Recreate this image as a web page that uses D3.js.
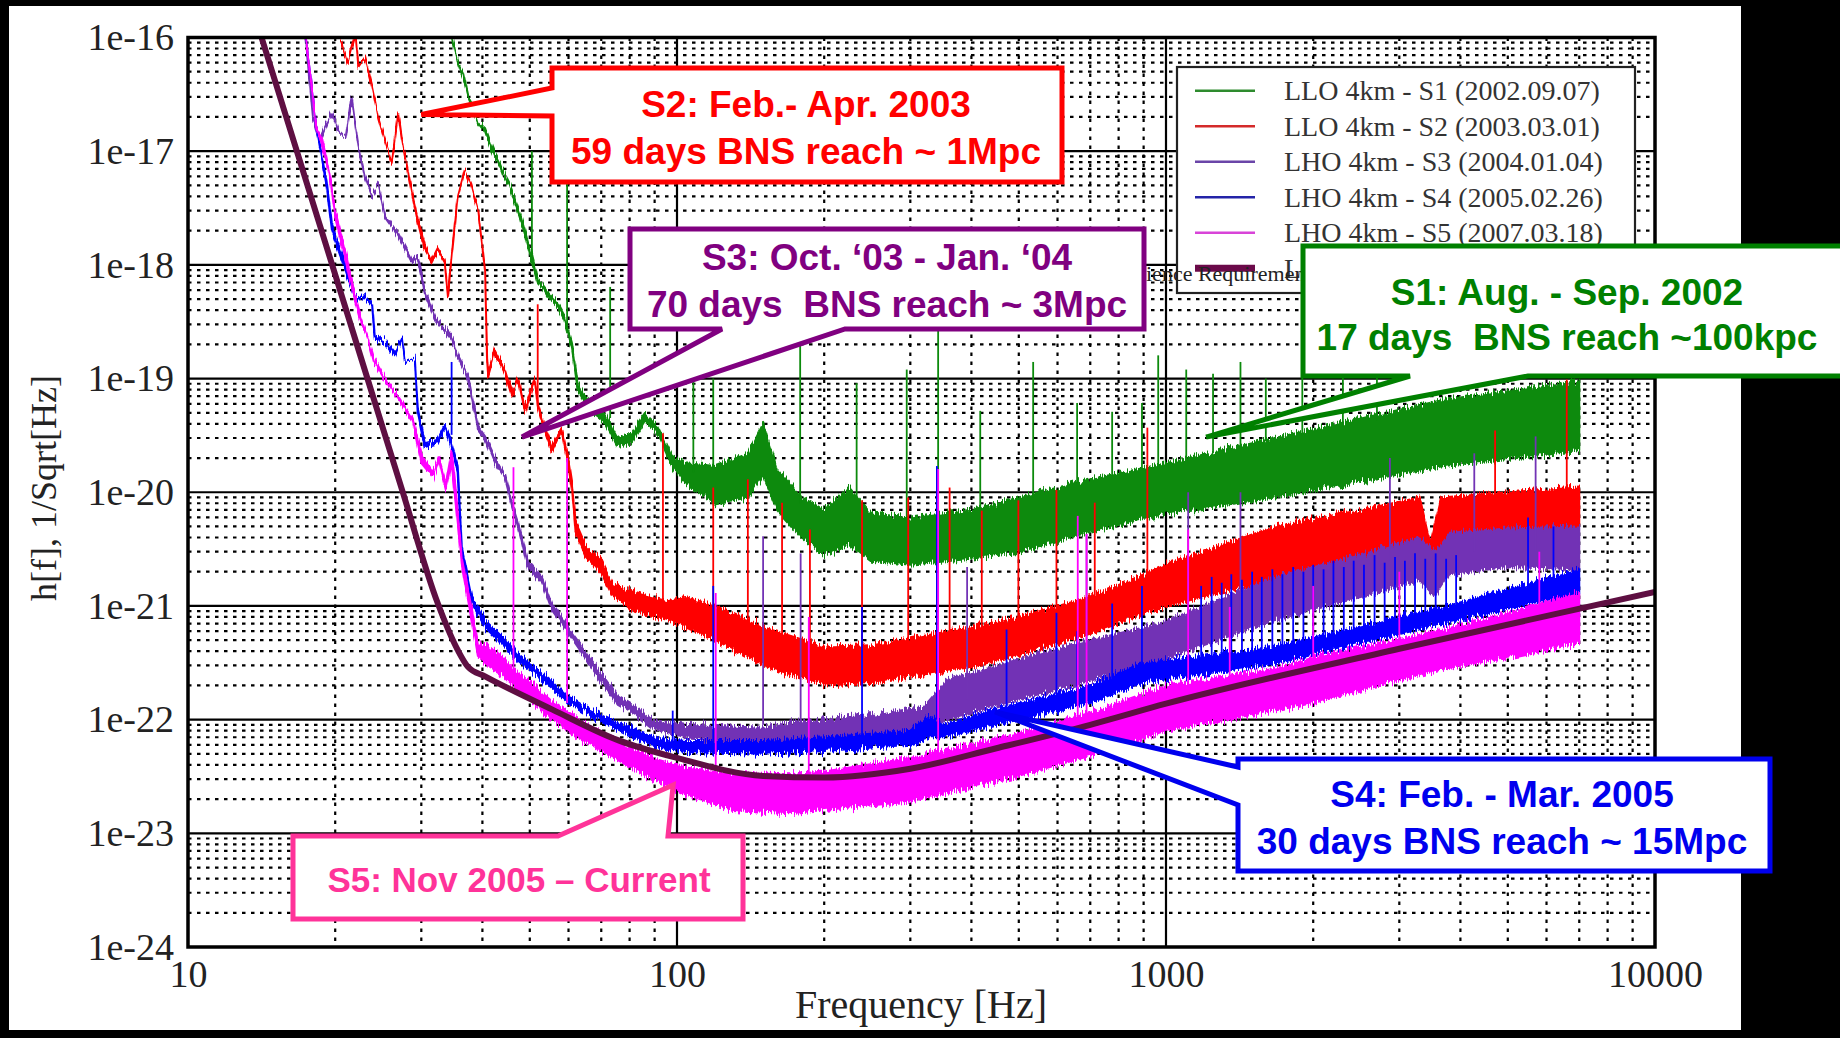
<!DOCTYPE html>
<html>
<head>
<meta charset="utf-8">
<style>
  html, body { margin: 0; padding: 0; background: #000; }
  svg { display: block; }
  .serif { font-family: "Liberation Serif", "Times New Roman", serif; }
  .callout text { font-family: "Liberation Sans", Arial, sans-serif; font-weight: bold; white-space: pre; }
</style>
<script src="https://cdn.jsdelivr.net/npm/d3@7"></script>
</head>
<body>
<svg id="chart" width="1840" height="1038"></svg>
<script>
// ---- values ----
const X_TICKS = [10, 100, 1000, 10000];
const Y_TICKS = [1e-16, 1e-17, 1e-18, 1e-19, 1e-20, 1e-21, 1e-22, 1e-23, 1e-24];

const LEGEND_LABELS = [
  "LLO 4km - S1 (2002.09.07)",
  "LLO 4km - S2 (2003.03.01)",
  "LHO 4km - S3 (2004.01.04)",
  "LHO 4km - S4 (2005.02.26)",
  "LHO 4km - S5 (2007.03.18)",
  "LIGO I SRD Goal, 4km"
];

// noise curves: [frequency Hz, lower h, upper h]
const S1_BAND = [
  [34.3, 1.2e-16, 1.2e-16], [35.6, 6.0e-17, 6.0e-17], [36.5, 4.5e-17, 4.8e-17], [37.4, 3.0e-17, 3.0e-17],
  [38.3, 2.3e-17, 2.5e-17], [39.2, 1.8e-17, 1.8e-17], [40.5, 1.5e-17, 1.6e-17], [41.5, 1.1e-17, 1.2e-17],
  [42.4, 8.9e-18, 9.5e-18], [43.4, 7.5e-18, 7.8e-18], [44.5, 5.6e-18, 6.0e-18], [45.5, 4.8e-18, 5.0e-18],
  [46.6, 3.5e-18, 3.8e-18], [47.8, 2.6e-18, 2.8e-18], [48.9, 1.8e-18, 2.0e-18], [50.5, 1.05e-18, 1.2e-18],
  [51.9, 6.9e-19, 7.5e-19], [53.2, 6.2e-19, 6.5e-19], [54.5, 5.2e-19, 5.7e-19], [57.0, 4.3e-19, 4.6e-19],
  [58.8, 3.3e-19, 3.6e-19], [60.0, 2.4e-19, 2.6e-19], [61.0, 1.8e-19, 2.0e-19], [62.7, 7.9e-20, 9.0e-20],
  [65.0, 6.0e-20, 7.0e-20], [67.0, 5.0e-20, 6.0e-20], [71.1, 4.1e-20, 5.0e-20], [75.7, 2.5e-20, 3.0e-20],
  [80.9, 2.7e-20, 3.3e-20], [86.0, 4.2e-20, 4.8e-20], [91.3, 3.3e-20, 3.8e-20], [97.6, 1.7e-20, 2.1e-20],
  [104, 1.2e-20, 1.8e-20], [120, 8.0e-21, 1.7e-20], [140, 9.0e-21, 2.2e-20], [150, 1.4e-20, 4.0e-20],
  [160, 7.0e-21, 1.6e-20], [180, 4.0e-21, 9.0e-21], [200, 2.8e-21, 7.0e-21], [225, 3.5e-21, 1.1e-20],
  [250, 2.5e-21, 6.5e-21], [300, 2.3e-21, 6.0e-21], [400, 2.6e-21, 7.0e-21], [500, 3.0e-21, 9.0e-21],
  [700, 4.5e-21, 1.3e-20], [1000, 6.5e-21, 1.8e-20], [1670, 9.0e-21, 3.0e-20], [3700, 1.7e-20, 6.5e-20],
  [7000, 2.3e-20, 9.5e-20]
];
const S2_BAND = [
  [19.7, 1.2e-16, 1.2e-16], [20.6, 9.5e-17, 9.5e-17], [21.2, 6.0e-17, 6.0e-17], [22.0, 1.1e-16, 1.1e-16],
  [22.3, 5.5e-17, 5.5e-17], [23.0, 6.7e-17, 6.7e-17], [23.8, 3.7e-17, 3.7e-17], [24.5, 2.0e-17, 2.0e-17],
  [25.3, 1.25e-17, 1.25e-17], [26.1, 7.9e-18, 7.9e-18], [26.9, 2.2e-17, 2.2e-17], [27.4, 1.25e-17, 1.25e-17],
  [28.7, 4.3e-18, 4.3e-18], [29.5, 2.4e-18, 2.6e-18], [30.5, 1.35e-18, 1.5e-18], [31.5, 1.05e-18, 1.1e-18],
  [32.4, 1.35e-18, 1.4e-18], [33.5, 1.05e-18, 1.1e-18], [34.0, 5.2e-19, 5.5e-19], [34.6, 1.2e-18, 1.2e-18],
  [35.6, 4.0e-18, 4.0e-18], [36.8, 6.8e-18, 6.8e-18], [38.0, 4.9e-18, 4.9e-18], [39.2, 3.0e-18, 3.0e-18],
  [40.5, 9.0e-19, 9.0e-19], [40.9, 1.4e-19, 1.5e-19], [41.1, 1.05e-19, 1.1e-19], [42.4, 1.7e-19, 1.8e-19],
  [44.5, 1.1e-19, 1.2e-19], [46.0, 6.9e-20, 7.5e-20], [47.3, 9.8e-20, 1.0e-19], [48.9, 5.0e-20, 5.5e-20],
  [51.2, 9.8e-20, 1.0e-19], [51.9, 5.6e-20, 6.0e-20], [53.5, 3.5e-20, 3.9e-20], [55.5, 2.3e-20, 2.6e-20],
  [58.1, 3.5e-20, 3.7e-20], [59.9, 1.8e-20, 2.0e-20], [61.0, 1.05e-20, 1.2e-20], [62.0, 4.5e-21, 5.5e-21],
  [64.9, 2.8e-21, 3.5e-21], [70.2, 1.9e-21, 2.5e-21], [73.6, 1.25e-21, 1.6e-21], [82.2, 9.0e-22, 1.3e-21],
  [95.7, 7.5e-22, 1.1e-21], [104, 6.5e-22, 1.2e-21], [120, 5.0e-22, 1.0e-21], [150, 3.0e-22, 6.5e-22],
  [200, 2.0e-22, 4.4e-22], [250, 2.1e-22, 4.5e-22], [300, 2.4e-22, 5.2e-22], [400, 2.9e-22, 6.5e-22],
  [500, 3.7e-22, 8.0e-22], [700, 5.7e-22, 1.2e-21], [1000, 1.0e-21, 2.3e-21], [1670, 1.7e-21, 5.0e-21],
  [2500, 2.8e-21, 7.0e-21], [3300, 3.5e-21, 9.0e-21], [3470, 2.5e-21, 3.5e-21], [3650, 3.5e-21, 9.0e-21],
  [5000, 4.5e-21, 1.0e-20], [7000, 5.0e-21, 1.1e-20]
];
const S3_BAND = [
  [17.3, 1.3e-16, 1.3e-16], [18.0, 2.0e-17, 2.0e-17], [18.6, 1.2e-17, 1.3e-17], [19.7, 2.2e-17, 2.2e-17],
  [20.3, 1.5e-17, 1.5e-17], [21.0, 1.3e-17, 1.3e-17], [21.6, 3.0e-17, 3.0e-17], [22.3, 1.1e-17, 1.1e-17],
  [23.0, 5.9e-18, 6.0e-18], [23.8, 4.0e-18, 4.2e-18], [24.5, 5.0e-18, 5.0e-18], [25.3, 2.6e-18, 2.7e-18],
  [26.9, 1.8e-18, 1.9e-18], [28.7, 1.05e-18, 1.1e-18], [29.5, 1.1e-18, 1.2e-18], [30.5, 5.6e-19, 6.0e-19],
  [32.0, 3.3e-19, 3.5e-19], [34.6, 2.2e-19, 2.4e-19], [35.6, 1.55e-19, 1.6e-19], [37.4, 9.8e-20, 1.05e-19],
  [39.2, 3.5e-20, 3.8e-20], [40.5, 2.9e-20, 3.1e-20], [42.4, 1.8e-20, 2.0e-20], [44.5, 1.3e-20, 1.4e-20],
  [46.0, 7.4e-21, 8.0e-21], [47.3, 5.0e-21, 5.5e-21], [49.5, 2.2e-21, 2.5e-21], [53.0, 1.6e-21, 1.8e-21],
  [55.5, 9.2e-22, 1.05e-21], [59.9, 5.8e-22, 6.5e-22], [64.9, 3.5e-22, 4.0e-22], [70.2, 2.1e-22, 2.5e-22],
  [75.7, 1.35e-22, 1.6e-22], [82.2, 1.1e-22, 1.3e-22], [88.9, 8.5e-23, 1.0e-22], [104, 7.0e-23, 9.0e-23],
  [150, 6.2e-23, 8.5e-23], [172, 6.2e-23, 9.5e-23], [250, 7.0e-23, 1.1e-22], [320, 8.0e-23, 1.3e-22],
  [355, 1.0e-22, 2.2e-22], [500, 1.5e-22, 3.4e-22], [700, 2.2e-22, 5.0e-22], [973, 3.3e-22, 7.0e-22],
  [1670, 7.5e-22, 1.8e-21], [2500, 1.2e-21, 2.8e-21], [3300, 1.7e-21, 4.0e-21], [3550, 1.2e-21, 3.0e-21],
  [3800, 1.9e-21, 4.4e-21], [5000, 2.2e-21, 4.8e-21], [7000, 2.1e-21, 5.0e-21]
];
const S4_BAND = [
  [17.3, 1.3e-16, 1.3e-16], [18.3, 1.6e-17, 1.6e-17], [19.2, 5.0e-18, 5.5e-18], [19.7, 2.0e-18, 2.2e-18],
  [21.0, 9.0e-19, 1.0e-18], [22.0, 4.9e-19, 5.2e-19], [23.0, 5.1e-19, 5.3e-19], [23.8, 4.3e-19, 4.5e-19],
  [24.1, 2.2e-19, 2.4e-19], [25.3, 2.1e-19, 2.2e-19], [26.5, 1.6e-19, 1.7e-19], [27.4, 2.3e-19, 2.3e-19],
  [27.8, 1.4e-19, 1.4e-19], [29.1, 1.5e-19, 1.5e-19], [29.5, 5.0e-20, 5.5e-20], [30.5, 2.5e-20, 2.7e-20],
  [32.4, 2.7e-20, 2.9e-20], [33.5, 3.7e-20, 3.9e-20], [34.2, 3.0e-20, 3.2e-20], [35.6, 1.5e-20, 1.7e-20],
  [36.3, 3.0e-21, 3.3e-21], [38.1, 1.05e-21, 1.2e-21], [40.5, 6.5e-22, 7.5e-22], [44.0, 4.5e-22, 5.3e-22],
  [47.3, 3.3e-22, 3.8e-22], [55.5, 1.9e-22, 2.2e-22], [59.9, 1.4e-22, 1.6e-22], [64.9, 1.15e-22, 1.3e-22],
  [75.7, 8.2e-23, 9.5e-23], [88.9, 5.8e-23, 7.0e-23], [104, 5.2e-23, 6.5e-23], [150, 5.0e-23, 6.5e-23],
  [200, 5.3e-23, 7.0e-23], [300, 6.0e-23, 8.0e-23], [330, 7.0e-23, 1.1e-22], [350, 7.0e-23, 9.0e-23],
  [450, 9.0e-23, 1.25e-22], [700, 1.4e-22, 2.0e-22], [885, 2.1e-22, 3.1e-22], [1670, 3.1e-22, 4.4e-22],
  [3700, 7.0e-22, 9.8e-22], [5000, 9.5e-22, 1.4e-21], [7000, 1.3e-21, 2.1e-21]
];
const S5_BAND = [
  [17.3, 1.3e-16, 1.3e-16], [18.3, 1.6e-17, 1.6e-17], [18.8, 1.1e-17, 1.3e-17], [19.4, 6.8e-18, 6.8e-18],
  [20.0, 2.6e-18, 3.0e-18], [21.0, 1.1e-18, 1.3e-18], [21.8, 5.5e-19, 6.0e-19], [22.5, 3.3e-19, 3.6e-19],
  [23.3, 2.3e-19, 2.3e-19], [24.0, 1.4e-19, 1.5e-19], [25.5, 9.2e-20, 9.5e-20], [27.0, 6.5e-20, 6.8e-20],
  [28.8, 4.3e-20, 4.5e-20], [30.0, 1.8e-20, 2.2e-20], [31.7, 1.35e-20, 1.5e-20], [32.6, 1.9e-20, 2.0e-20],
  [33.7, 1.05e-20, 1.2e-20], [34.6, 1.8e-20, 2.3e-20], [35.5, 6.0e-21, 8.0e-21], [36.3, 2.3e-21, 2.7e-21],
  [37.4, 1.1e-21, 1.4e-21], [39.2, 3.6e-22, 4.6e-22], [41.0, 3.0e-22, 4.5e-22], [43.9, 2.5e-22, 3.5e-22],
  [47.3, 1.8e-22, 2.6e-22], [51.0, 1.4e-22, 2.0e-22], [55.5, 1.0e-22, 1.45e-22], [64.9, 6.3e-23, 9.0e-23],
  [75.7, 4.4e-23, 6.5e-23], [88.9, 3.0e-23, 4.6e-23], [104, 2.2e-23, 3.8e-23], [130, 1.6e-23, 3.4e-23],
  [170, 1.5e-23, 3.3e-23], [200, 1.6e-23, 3.5e-23], [300, 1.9e-23, 4.6e-23], [500, 3.2e-23, 7.6e-23],
  [700, 4.8e-23, 1.15e-22], [1000, 8.0e-23, 2.0e-22], [1670, 1.2e-22, 2.8e-22], [2000, 1.4e-22, 3.5e-22],
  [3700, 2.8e-22, 6.2e-22], [5000, 3.5e-22, 8.7e-22], [7000, 4.7e-22, 1.3e-21]
];

// narrow lines sticking out of the noise floor: [frequency Hz, base h, peak h]
const S1_LINES = [
  [50.5, 1.1e-18, 1.0e-17], [59.6, 2.5e-19, 5.5e-18], [73, 4.5e-20, 6.4e-19], [108, 1.5e-20, 1.3e-19],
  [118.6, 1.6e-20, 1.0e-19], [178.6, 8e-21, 2.0e-19], [233, 9e-21, 9.1e-20], [295, 6e-21, 1.2e-19],
  [342, 6e-21, 2.9e-19], [417, 7e-21, 5.2e-20], [535, 9e-21, 1.4e-19], [658, 1.2e-20, 6.1e-20],
  [776, 1.4e-20, 5.1e-20], [893, 1.6e-20, 6.1e-20], [964, 1.7e-20, 1.6e-19], [1100, 2e-20, 1.2e-19],
  [1248, 2.2e-20, 1.1e-19], [1420, 2.5e-20, 1.4e-19], [1600, 2.8e-20, 1.0e-19], [1900, 3.2e-20, 1.3e-19],
  [2300, 3.8e-20, 1.1e-19], [2700, 4.3e-20, 1.2e-19]
];
const S2_LINES = [
  [51.9, 5.6e-20, 4.5e-19], [93.6, 9e-22, 3.3e-20], [118.6, 5e-22, 1.1e-20], [139.6, 4e-22, 1.3e-20],
  [164, 3.5e-22, 8.1e-21], [187, 3e-22, 4.7e-21], [239, 3e-22, 8.5e-21], [297, 3.5e-22, 9e-21],
  [361, 4e-22, 1.1e-20], [420, 4.5e-22, 6.9e-21], [499, 5e-22, 8.5e-21], [597, 6e-22, 1.05e-20],
  [715, 8e-22, 8.1e-21], [916, 1.2e-21, 3.7e-20], [4710, 8e-21, 3.5e-20], [6600, 9e-21, 9.8e-20]
];
const S3_LINES = [
  [150, 9e-23, 4.1e-21], [179, 9e-23, 2.9e-21], [392, 1.5e-22, 2.2e-21], [688, 3e-22, 4.3e-21],
  [1110, 6e-22, 1e-20], [1420, 8e-22, 1e-20], [2870, 2.5e-21, 2e-20], [4270, 3e-21, 2.2e-20],
  [5700, 3e-21, 3.1e-20]
];
const S4_LINES = [
  [34.6, 3.2e-20, 1.4e-19], [98, 6e-23, 1.2e-22], [118.6, 6e-23, 1.5e-21], [239, 7e-23, 9.8e-22],
  [340, 1e-22, 1.7e-20], [472, 1.2e-22, 6.2e-22], [597, 1.5e-22, 8.7e-22], [658, 1.6e-22, 6e-22],
  [776, 1.8e-22, 1.05e-21], [893, 2.5e-22, 1.5e-21],
  [1180, 3.3e-22, 1.5e-21], [1240, 3.4e-22, 1.8e-21], [1300, 3.5e-22, 1.6e-21], [1360, 3.6e-22, 1.9e-21],
  [1430, 3.7e-22, 1.7e-21], [1500, 3.8e-22, 2.0e-21], [1570, 4.0e-22, 1.8e-21], [1650, 4.2e-22, 2.1e-21],
  [1730, 4.4e-22, 1.9e-21], [1820, 4.6e-22, 2.2e-21], [1910, 4.8e-22, 2.0e-21], [2000, 5.0e-22, 2.3e-21],
  [2100, 5.3e-22, 2.1e-21], [2200, 5.6e-22, 2.5e-21], [2310, 5.9e-22, 2.2e-21], [2420, 6.2e-22, 2.5e-21],
  [2540, 6.5e-22, 2.3e-21], [2670, 6.8e-22, 2.8e-21], [2800, 7.0e-22, 2.4e-21], [2940, 7.3e-22, 2.7e-21],
  [3080, 7.6e-22, 2.5e-21], [3230, 8.0e-22, 2.9e-21], [3390, 8.3e-22, 2.6e-21], [3560, 8.7e-22, 2.9e-21],
  [3740, 9.0e-22, 2.6e-21], [3920, 9.4e-22, 2.8e-21], [5500, 1.5e-21, 6e-21], [6200, 1.7e-21, 5e-21]
];
const S5_LINES = [
  [46.3, 2.5e-22, 1.66e-20], [59.6, 1.4e-22, 2e-20], [120, 3e-23, 1.3e-21], [186, 3e-23, 8e-22],
  [342, 4e-23, 1.6e-20], [660, 9e-23, 6.2e-21], [688, 9e-23, 4.3e-21], [1110, 1.8e-22, 4.7e-21],
  [1350, 2e-22, 9.8e-22], [2000, 3e-22, 1.5e-21], [3000, 5e-22, 2e-21], [5800, 1e-21, 3e-21]
];

// design requirement curve: [frequency Hz, h]
const SRD = [
  [13.8, 1.4e-16], [20, 8.2e-19], [27.4, 1.05e-20], [32.4, 1.06e-21], [35.6, 4.1e-22], [37.4, 2.9e-22],
  [40.5, 2.4e-22], [55.5, 1.23e-22], [75.7, 6.6e-23], [100, 4.6e-23], [150, 3.2e-23], [200, 3.1e-23],
  [300, 3.7e-23], [450, 5.6e-23], [700, 9.0e-23], [1000, 1.38e-22], [3000, 4.2e-22], [10000, 1.33e-21]
];

const S1_NOTE = ["S1: Aug. - Sep. 2002", "17 days  BNS reach ~100kpc"];
const S2_NOTE = ["S2: Feb.- Apr. 2003", "59 days BNS reach ~ 1Mpc"];
const S3_NOTE = ["S3: Oct. \u201803 - Jan. \u201804", "70 days  BNS reach ~ 3Mpc"];
const S4_NOTE = ["S4: Feb. - Mar. 2005", "30 days BNS reach ~ 15Mpc"];
const S5_NOTE = ["S5: Nov 2005 \u2013 Current"];

// ---- layout ----
const WIDTH = 1840, HEIGHT = 1038;
const PAGE = { left: 9, top: 6, right: 1741, bottom: 1030 };
const PLOT = { left: 188, top: 37.5, right: 1655, bottom: 947 };

const COLORS = {
  S1: "#0c8a0c", S2: "#ff0000", S3: "#7233b5", S4: "#0000ff", S5: "#ff00ff", SRD: "#5e0f42"
};
const LEGEND_COLORS = ["#2e8b2e", "#d42a2a", "#6a45a8", "#2424a8", "#d844d8", "#6b0a4a"];

const x = d3.scaleLog().domain([10, 10000]).range([PLOT.left, PLOT.right]);
const y = d3.scaleLog().domain([1e-24, 1e-16]).range([PLOT.bottom, PLOT.top]);

const isDecade = d => Math.abs(Math.log10(d) - Math.round(Math.log10(d))) < 1e-9;

const svg = d3.select("#chart");
const defs = svg.append("defs");
defs.append("clipPath").attr("id", "page-clip").append("rect")
  .attr("x", PAGE.left).attr("y", PAGE.top)
  .attr("width", PAGE.right - PAGE.left).attr("height", PAGE.bottom - PAGE.top);
defs.append("clipPath").attr("id", "plot-clip").append("rect")
  .attr("x", PLOT.left).attr("y", PLOT.top)
  .attr("width", PLOT.right - PLOT.left).attr("height", PLOT.bottom - PLOT.top);

// vertical jitter so the bands get the ragged edge of a dense spectrum
const jitter = defs.append("filter")
  .attr("id", "ragged")
  .attr("filterUnits", "userSpaceOnUse")
  .attr("x", PLOT.left - 20).attr("y", PLOT.top - 20)
  .attr("width", PLOT.right - PLOT.left + 40).attr("height", PLOT.bottom - PLOT.top + 40);
jitter.append("feTurbulence")
  .attr("type", "fractalNoise")
  .attr("baseFrequency", "0.9 0.03")
  .attr("numOctaves", 2)
  .attr("seed", 3)
  .attr("result", "noise");
jitter.append("feColorMatrix")
  .attr("in", "noise")
  .attr("type", "matrix")
  .attr("values", "0 0 0 0 0.5  0 1 0 0 0  0 0 0 0 0  0 0 0 0 1")
  .attr("result", "shift");
jitter.append("feDisplacementMap")
  .attr("in", "SourceGraphic")
  .attr("in2", "shift")
  .attr("scale", 14)
  .attr("xChannelSelector", "R")
  .attr("yChannelSelector", "G");

svg.append("rect").attr("width", WIDTH).attr("height", HEIGHT).attr("fill", "#000");

const page = svg.append("g").attr("clip-path", "url(#page-clip)");
page.append("rect")
  .attr("x", PAGE.left).attr("y", PAGE.top)
  .attr("width", PAGE.right - PAGE.left).attr("height", PAGE.bottom - PAGE.top)
  .attr("fill", "#fff");

// slide title, cut off by the top edge of the picture
page.append("text")
  .attr("class", "serif")
  .attr("x", 760).attr("y", -3)
  .attr("text-anchor", "middle")
  .attr("font-size", 40)
  .attr("fill", "#777")
  .text("Strain Sensitivity progress for the LIGO Interferometers");

// grid
const grid = page.append("g");
const xMinor = x.ticks().filter(d => !isDecade(d));
const yMinor = y.ticks().filter(d => !isDecade(d));

grid.selectAll("line.ymin").data(yMinor).join("line")
  .attr("x1", PLOT.left).attr("x2", PLOT.right)
  .attr("y1", d => y(d)).attr("y2", d => y(d))
  .attr("stroke", "#000").attr("stroke-width", 2.2)
  .attr("stroke-dasharray", "3.5,5.5");

grid.selectAll("line.xmin").data(xMinor).join("line")
  .attr("y1", PLOT.top).attr("y2", PLOT.bottom)
  .attr("x1", d => x(d)).attr("x2", d => x(d))
  .attr("stroke", "#000").attr("stroke-width", 2.2)
  .attr("stroke-dasharray", "3.5,5.5");

grid.selectAll("line.ymaj").data(Y_TICKS.slice(1, -1)).join("line")
  .attr("x1", PLOT.left).attr("x2", PLOT.right)
  .attr("y1", d => y(d)).attr("y2", d => y(d))
  .attr("stroke", "#000").attr("stroke-width", 2.2);

grid.selectAll("line.xmaj").data(X_TICKS.slice(1, -1)).join("line")
  .attr("y1", PLOT.top).attr("y2", PLOT.bottom)
  .attr("x1", d => x(d)).attr("x2", d => x(d))
  .attr("stroke", "#000").attr("stroke-width", 2.2);

// curves
const plot = page.append("g").attr("clip-path", "url(#plot-clip)");

const band = d3.area()
  .x(d => x(d[0]))
  .y0(d => y(d[1]))
  .y1(d => y(d[2]));

const runs = [
  { band: S1_BAND, lines: S1_LINES, color: COLORS.S1 },
  { band: S2_BAND, lines: S2_LINES, color: COLORS.S2 },
  { band: S3_BAND, lines: S3_LINES, color: COLORS.S3 },
  { band: S4_BAND, lines: S4_LINES, color: COLORS.S4 },
  { band: S5_BAND, lines: S5_LINES, color: COLORS.S5 }
];

runs.forEach(run => {
  const g = plot.append("g");

  g.append("path")
    .datum(run.band)
    .attr("d", band)
    .attr("fill", run.color)
    .attr("stroke", run.color)
    .attr("stroke-width", 2)
    .attr("stroke-linejoin", "round")
    .attr("filter", "url(#ragged)");

  g.append("g")
    .selectAll("line")
    .data(run.lines)
    .join("line")
    .attr("x1", d => x(d[0])).attr("x2", d => x(d[0]))
    .attr("y1", d => y(d[1])).attr("y2", d => y(d[2]))
    .attr("stroke", run.color)
    .attr("stroke-width", 1.8);
});

plot.append("path")
  .datum(SRD)
  .attr("d", d3.line().x(d => x(d[0])).y(d => y(d[1])).curve(d3.curveMonotoneX))
  .attr("fill", "none")
  .attr("stroke", COLORS.SRD)
  .attr("stroke-width", 6);

// frame
page.append("rect")
  .attr("x", PLOT.left).attr("y", PLOT.top)
  .attr("width", PLOT.right - PLOT.left).attr("height", PLOT.bottom - PLOT.top)
  .attr("fill", "none").attr("stroke", "#000").attr("stroke-width", 3.5);

// axes
const yAxis = d3.axisLeft(y)
  .tickValues(Y_TICKS)
  .tickFormat(d => "1e" + Math.round(Math.log10(d)))
  .tickSize(0)
  .tickPadding(14);

page.append("g")
  .attr("transform", `translate(${PLOT.left},0)`)
  .call(yAxis)
  .call(g => g.select(".domain").remove())
  .attr("font-family", "Liberation Serif, Times New Roman, serif")
  .attr("font-size", 38)
  .attr("color", "#222");

const xAxis = d3.axisBottom(x)
  .tickValues(X_TICKS)
  .tickFormat(d3.format("d"))
  .tickSize(0)
  .tickPadding(13);

page.append("g")
  .attr("transform", `translate(0,${PLOT.bottom})`)
  .call(xAxis)
  .call(g => g.select(".domain").remove())
  .attr("font-family", "Liberation Serif, Times New Roman, serif")
  .attr("font-size", 38)
  .attr("color", "#222");

page.append("text")
  .attr("class", "serif")
  .attr("x", 921).attr("y", 1018)
  .attr("text-anchor", "middle")
  .attr("font-size", 40)
  .attr("fill", "#222")
  .text("Frequency [Hz]");

page.append("text")
  .attr("class", "serif")
  .attr("transform", "translate(56,488) rotate(-90)")
  .attr("text-anchor", "middle")
  .attr("font-size", 36)
  .attr("fill", "#222")
  .text("h[f], 1/Sqrt[Hz]");

// legend
const legend = page.append("g").attr("transform", "translate(1177,67)");
legend.append("rect")
  .attr("width", 458).attr("height", 226)
  .attr("fill", "#fff").attr("stroke", "#222").attr("stroke-width", 2.2);

const rows = legend.selectAll("g.row")
  .data(LEGEND_LABELS)
  .join("g")
  .attr("transform", (d, i) => `translate(0,${23.7 + i * 35.5})`);

rows.append("line")
  .attr("x1", 18).attr("x2", 78)
  .attr("stroke", (d, i) => LEGEND_COLORS[i])
  .attr("stroke-width", (d, i) => i === 5 ? 7 : 2.4);

rows.append("text")
  .attr("class", "serif")
  .attr("x", 107).attr("y", 9.5)
  .attr("font-size", 28)
  .attr("fill", "#333")
  .text(d => d);

// stray slide label that sits under the boxes
page.append("text")
  .attr("class", "serif")
  .attr("x", 1124).attr("y", 281)
  .attr("font-size", 22)
  .attr("fill", "#222")
  .text("Science Requirement");

// callouts
function bubble(b, p, tip) {
  let pts;
  if (p.side === "left") {
    pts = [[b.l, b.t], [b.r, b.t], [b.r, b.b], [b.l, b.b], [b.l, p.b], tip, [b.l, p.a]];
  } else if (p.side === "bottom") {
    pts = [[b.l, b.t], [b.r, b.t], [b.r, b.b], [p.b, b.b], tip, [p.a, b.b], [b.l, b.b]];
  } else {
    pts = [[b.l, b.t], [p.a, b.t], tip, [p.b, b.t], [b.r, b.t], [b.r, b.b], [b.l, b.b]];
  }
  return "M" + pts.join("L") + "Z";
}

const callouts = [
  { note: S2_NOTE, color: "#ff0000", box: { l: 552, t: 68, r: 1062, b: 182 },
    ptr: { side: "left", a: 88, b: 116 }, tip: [30, 2.1e-17], cx: 806, base: [117, 164], size: 37 },
  { note: S3_NOTE, color: "#800080", box: { l: 630, t: 229, r: 1144, b: 329 },
    ptr: { side: "bottom", a: 722, b: 845 }, tip: [48.2, 3.06e-20], cx: 887, base: [270, 317], size: 37 },
  { note: S1_NOTE, color: "#008000", box: { l: 1303, t: 246, r: 1852, b: 376 },
    ptr: { side: "bottom", a: 1410, b: 1528 }, tip: [1208, 3.06e-20], cx: 1567, base: [305, 350], size: 37 },
  { note: S4_NOTE, color: "#0000ee", box: { l: 1238, t: 759, r: 1770, b: 871 },
    ptr: { side: "left", a: 767, b: 805 }, tip: [447, 1.17e-22], cx: 1502, base: [807, 854], size: 37 },
  { note: S5_NOTE, color: "#ff3399", box: { l: 293, t: 836, r: 743, b: 919 },
    ptr: { side: "top", a: 558, b: 668 }, tip: [98.2, 2.66e-23], cx: 519, base: [892], size: 35 }
];

const notes = svg.append("g").attr("class", "callout");
callouts.forEach(c => {
  const g = notes.append("g");
  g.append("path")
    .attr("d", bubble(c.box, c.ptr, [x(c.tip[0]), y(c.tip[1])]))
    .attr("fill", "#fff")
    .attr("stroke", c.color)
    .attr("stroke-width", 5);
  g.selectAll("text")
    .data(c.note)
    .join("text")
    .attr("xml:space", "preserve")
    .attr("x", c.cx)
    .attr("y", (d, i) => c.base[i])
    .attr("text-anchor", "middle")
    .attr("font-size", c.size)
    .attr("fill", c.color)
    .text(d => d);
});
</script>
</body>
</html>
